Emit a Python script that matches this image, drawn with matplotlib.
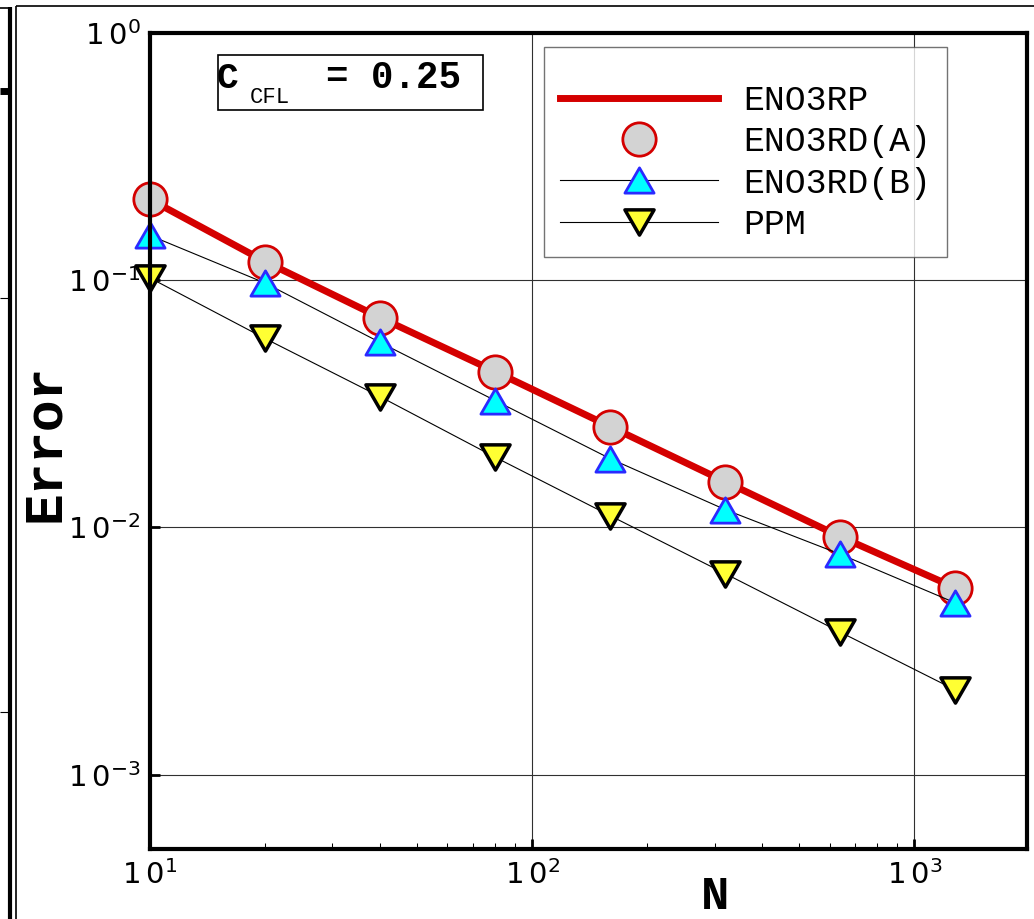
import matplotlib
matplotlib.use("Agg")
import matplotlib.pyplot as plt
import numpy as np
from matplotlib.ticker import LogLocator, FuncFormatter, NullLocator
from matplotlib.lines import Line2D
from matplotlib.patches import Rectangle
from matplotlib.path import Path

# ---------------- data ----------------
N = [10, 20, 40, 80, 160, 320, 640, 1280]
err_eno3rp = [0.2122, 0.1190, 0.0706, 0.0427, 0.02557, 0.01531, 0.00917, 0.00570]
err_eno3rd_a = [0.2122, 0.1190, 0.0706, 0.0427, 0.02557, 0.01531, 0.00917, 0.00570]
err_eno3rd_b = [0.1517, 0.0974, 0.0560, 0.0326, 0.01897, 0.01180, 0.00779, 0.00495]
err_ppm = [0.1021, 0.0581, 0.0338, 0.01923, 0.01115, 0.00650, 0.00377, 0.00220]
labels = ["ENO3RP", "ENO3RD(A)", "ENO3RD(B)", "PPM"]
xlim = (10, 1968)
ylim = (5.0e-4, 1.0)

W, H = 1034, 919
fig = plt.figure(figsize=(W / 100, H / 100), dpi=100)

def fx(x):
    return x / W

def fy(y):
    return 1 - y / H

ax = fig.add_axes([fx(150), fy(849), fx(1026.7) - fx(150), fy(33) - fy(849)])
ax.set_xscale("log")
ax.set_yscale("log")
ax.set_xlim(*xlim)
ax.set_ylim(*ylim)

# marker shapes (equilateral triangles)
up_tri = Path([(0, 0.866), (-1, -0.866), (1, -0.866), (0, 0.866)],
              [Path.MOVETO, Path.LINETO, Path.LINETO, Path.CLOSEPOLY])
dn_tri = Path([(0, -0.866), (-1, 0.866), (1, 0.866), (0, -0.866)],
              [Path.MOVETO, Path.LINETO, Path.LINETO, Path.CLOSEPOLY])

red = "#d40000"
ax.plot(N, err_eno3rp, color=red, lw=5, label=labels[0], zorder=3, clip_on=False)
ax.plot(N, err_eno3rd_a, ls="none", marker="o", ms=24, mfc="#d3d3d3", mec=red,
        mew=2, label=labels[1], zorder=4, clip_on=False)
ax.plot(N, err_eno3rd_b, color="black", lw=0.8, marker=up_tri, ms=21,
        mfc="#00ffff", mec="#2a2aff", mew=2, label=labels[2], zorder=5, clip_on=False)
ax.plot(N, err_ppm, color="black", lw=0.8, marker=dn_tri, ms=21,
        mfc="#ffff33", mec="black", mew=2.5, label=labels[3], zorder=5, clip_on=False)

# grid and ticks
ax.grid(True, which="major", color="#303030", lw=0.8, zorder=1)
ax.set_axisbelow(True)
ax.xaxis.set_major_locator(LogLocator(base=10))
ax.xaxis.set_minor_locator(LogLocator(base=10, subs=np.arange(2, 10)))
ax.yaxis.set_major_locator(LogLocator(base=10))
ax.yaxis.set_minor_locator(NullLocator())
fmt = FuncFormatter(lambda v, p: r"$\mathregular{1\,0^{%d}}$" % int(round(np.log10(v))))
ax.xaxis.set_major_formatter(fmt)
ax.yaxis.set_major_formatter(fmt)
ax.tick_params(which="major", direction="in", length=7, width=2, labelsize=21,
               top=False, right=False)
ax.tick_params(axis="x", which="major", pad=8)
ax.tick_params(axis="y", which="major", pad=7)
ax.tick_params(which="minor", direction="in", length=4.3, width=0.75, top=False, right=False)
for s in ax.spines.values():
    s.set_linewidth(3)
    s.set_zorder(6)

# axis labels
fig.text(fx(45), fy(443), "Error", rotation=90, ha="center", va="center",
         family="Liberation Mono", weight="bold", fontsize=38)
fig.text(fx(715), fy(897), "N", ha="center", va="center",
         family="Liberation Mono", weight="bold", fontsize=34)

# legend
leg = ax.legend(loc="upper left", bbox_to_anchor=((544 - 150) / 876.7, (849 - 47) / 816),
                borderaxespad=0, frameon=True, fancybox=False, numpoints=1,
                prop={"family": "Liberation Mono", "size": 25},
                handlelength=4.55, handletextpad=0.75, labelspacing=0.24,
                borderpad=0.45, title=" ", title_fontproperties={"size": 9})
leg.get_frame().set_edgecolor("#505050")
leg.get_frame().set_linewidth(1.0)
leg.set_zorder(7)

# CFL box
fig.add_artist(Rectangle((fx(218), fy(110)), fx(483) - fx(218), fy(55) - fy(110),
                         transform=fig.transFigure, fill=True, facecolor="white",
                         edgecolor="black", lw=1.2, zorder=8))
fig.text(fx(217), fy(88), "C", ha="left", va="baseline", family="Liberation Mono",
         weight="bold", fontsize=26, zorder=9)
fig.text(fx(250), fy(103), "CFL", ha="left", va="baseline", family="Liberation Mono",
         fontsize=16, zorder=9)
fig.text(fx(326), fy(88), "= 0.25", ha="left", va="baseline", family="Liberation Mono",
         weight="bold", fontsize=27, zorder=9)

# frame lines (panel border and neighbouring panel remnant)
def fline(xs, ys, lw, color="black"):
    fig.add_artist(Line2D([fx(x) for x in xs], [fy(y) for y in ys],
                          transform=fig.transFigure, lw=lw, color=color,
                          solid_capstyle="butt"))

fline([16, 16], [6, 919], 1.2)
fline([16, 1034], [6, 6], 1.2)
fline([10, 10], [7, 919], 3)
fline([0, 10], [8, 8], 1.2)
fline([0, 10], [91, 91], 5)
fline([0, 10], [298, 298], 0.8)
fline([0, 10], [712, 712], 0.8)

fig.savefig("out.png", dpi=100)
